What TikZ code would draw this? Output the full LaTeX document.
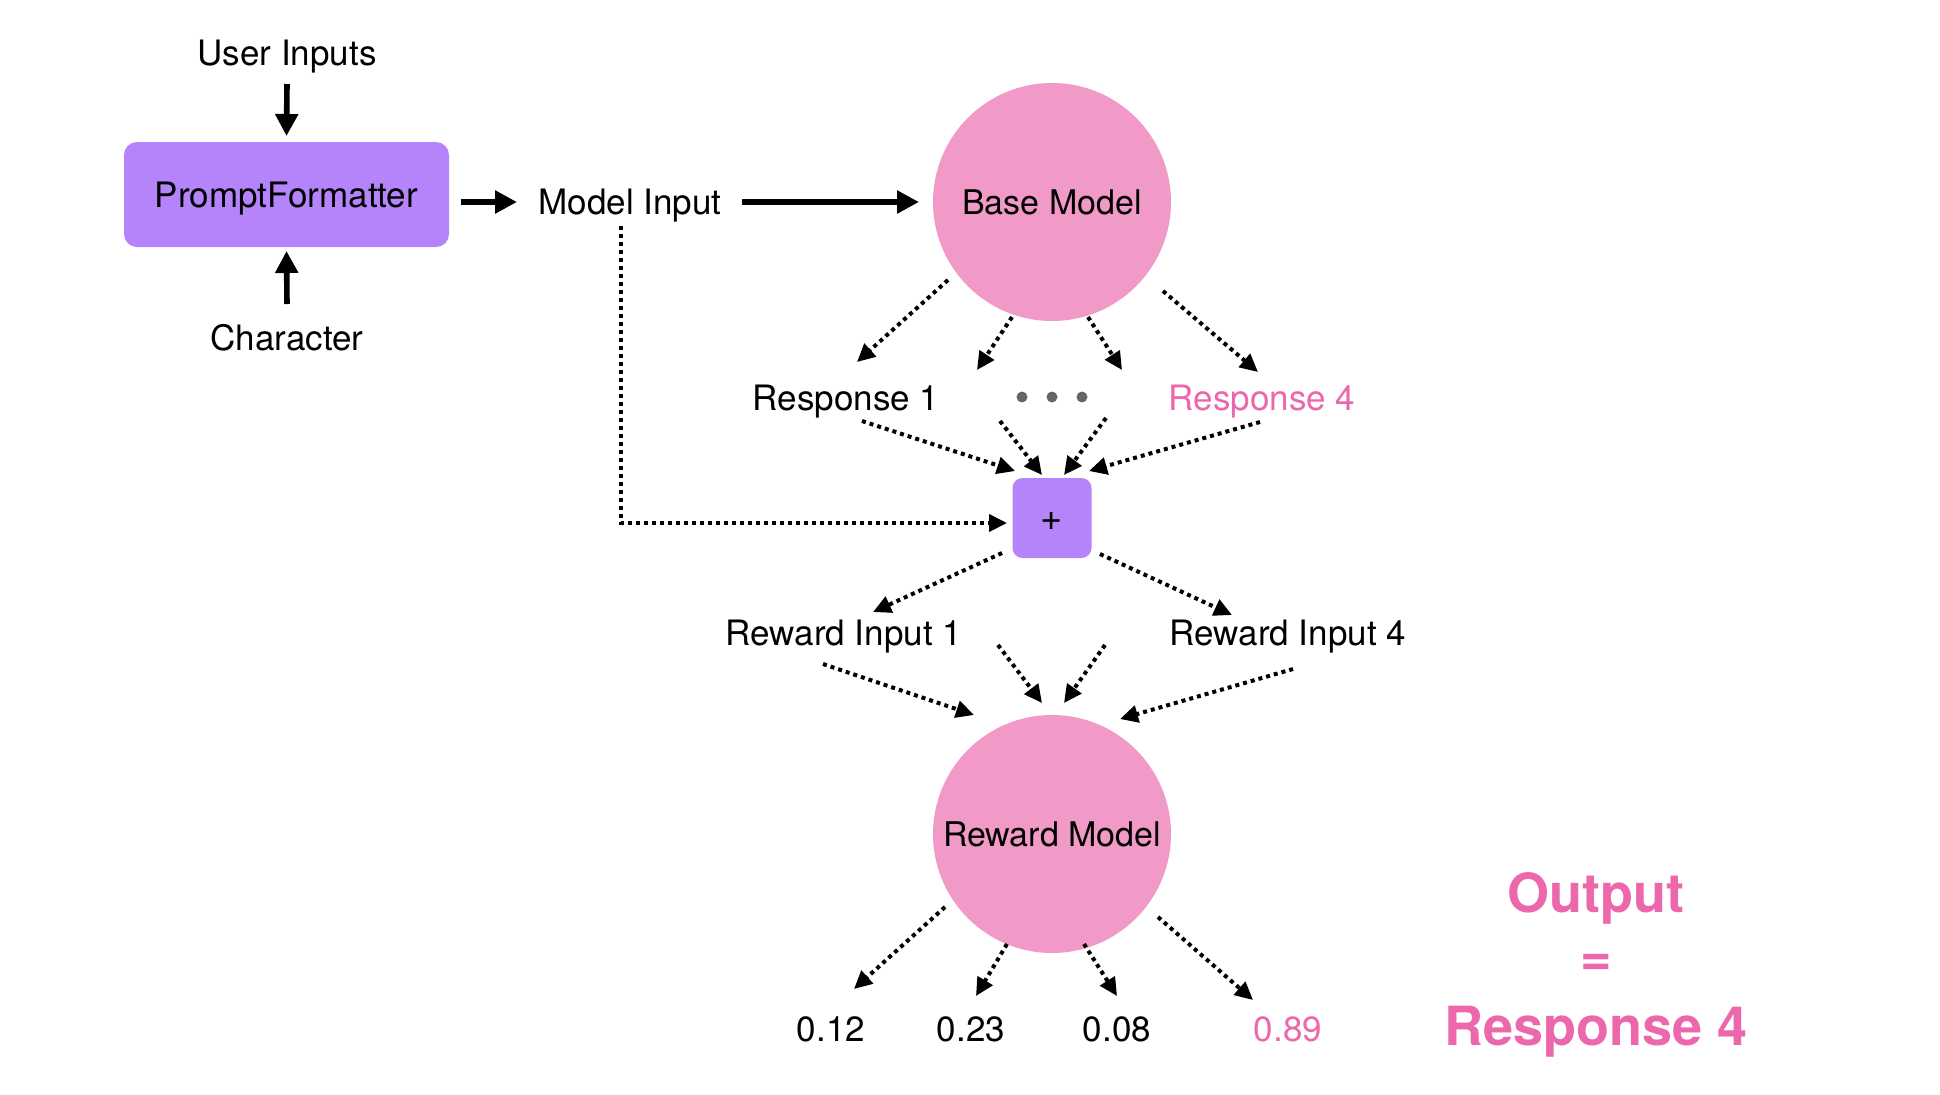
\documentclass[tikz,border=0pt]{standalone}
\usepackage{fontspec}
\setmainfont{TeX Gyre Heros}
\usetikzlibrary{arrows.meta}
\definecolor{boxpurple}{HTML}{B584FA}
\definecolor{circpink}{HTML}{F19AC7}
\definecolor{txtpink}{HTML}{EC67AC}
\definecolor{dotgray}{HTML}{666666}
\begin{document}
\begin{tikzpicture}[x=0.5pt,y=-0.5pt,
  lbl/.style={inner sep=0pt, text height=12.5pt, text depth=0pt, font=\fontsize{17.5}{20}\selectfont},
  bigpink/.style={inner sep=0pt, text height=19.5pt, text depth=0pt, text=txtpink, font=\fontsize{27}{30}\selectfont\bfseries},
  pbox/.style={fill=boxpurple, inner sep=0pt, text height=12.5pt, text depth=0pt, font=\fontsize{17.5}{20}\selectfont},
  pcirc/.style={circle, fill=circpink, minimum size=119pt, inner sep=0pt, font=\fontsize{17}{20}\selectfont},
  solidarrow/.style={line width=2.8pt, -{Triangle[length=11pt,width=11pt]}},
  dotarrow/.style={line width=2pt, dash pattern=on 2pt off 2pt, -{Triangle[length=9pt,width=8.5pt]}},
]
\useasboundingbox[fill=white] (0,0) rectangle (1940,1094);

% nodes
\node[lbl] (ui) at (287,53) {User Inputs};
\node[pbox, rounded corners=6.5pt, minimum width=162.5pt, minimum height=52.5pt] (pf) at (286.5,194.5) {PromptFormatter};
\node[lbl] (ch) at (287,338) {Character};
\node[lbl] (mi) at (630,202) {Model Input};
\node[pcirc] (base) at (1052,202) {Base Model};

\node[lbl] (r1) at (846,398) {Response 1};
\coordinate (dots) at (1052,397);
\fill[dotgray] (1022,397) circle (5.5) (1052,397) circle (5.5) (1082,397) circle (5.5);
\node[lbl, text=txtpink] (r4) at (1262,398) {Response 4};

\node[pbox, rounded corners=5pt, minimum width=39.5pt, minimum height=40pt, font=\fontsize{19}{20}\selectfont] (plus) at (1052,518) {+};

\node[lbl] (ri1) at (844,633) {Reward Input 1};
\coordinate (rimid) at (1052,633);
\node[lbl] (ri4) at (1288,633) {Reward Input 4};

\node[pcirc] (rm) at (1052,834) {Reward Model};

\node[lbl] (v1) at (831,1029) {0.12};
\node[lbl] (v2) at (971,1029) {0.23};
\node[lbl] (v3) at (1117,1029) {0.08};
\node[lbl, text=txtpink] (v4) at (1288,1029) {0.89};

\node[bigpink] (out) at (1596,893) {Output};
\node[bigpink, text height=0pt] (eq) at (1596,960) {\raisebox{-7.5pt}{=}};
\node[bigpink] (outr) at (1596,1026) {Response 4};

% solid arrows
\draw[solidarrow] ([shift={(0,31)}]ui.center) -- ([shift={(0,-58.5)}]pf.center);
\draw[solidarrow] ([shift={(0,-34)}]ch.center) -- ([shift={(0,56.5)}]pf.center);
\draw[solidarrow] ([shift={(174.5,7.5)}]pf.center) -- ([shift={(-113,0)}]mi.center);
\draw[solidarrow] ([shift={(112,0)}]mi.center) -- ([shift={(-133,0)}]base.center);

% base model -> responses
\draw[dotarrow] ([shift={(-104,78)}]base.center) -- ([shift={(11,-36)}]r1.center);
\draw[dotarrow] ([shift={(-40,115)}]base.center) -- ([shift={(-75,-27)}]dots);
\draw[dotarrow] ([shift={(36,115)}]base.center) -- ([shift={(70,-27)}]dots);
\draw[dotarrow] ([shift={(111,89)}]base.center) -- ([shift={(-4,-26)}]r4.center);

% responses -> plus
\draw[dotarrow] ([shift={(16,23)}]r1.center) -- ([shift={(-37,-47)}]plus.center);
\draw[dotarrow] ([shift={(-52,24)}]dots) -- ([shift={(-10,-43)}]plus.center);
\draw[dotarrow] ([shift={(54,21)}]dots) -- ([shift={(12,-43)}]plus.center);
\draw[dotarrow] ([shift={(-2,24)}]r4.center) -- ([shift={(37,-47)}]plus.center);

% model input -> plus
\draw[dotarrow] ([shift={(-9,24)}]mi.center) |- ([shift={(-45,5)}]plus.center);

% plus -> reward inputs
\draw[dotarrow] ([shift={(-50,35)}]plus.center) -- ([shift={(29,-21)}]ri1.center);
\draw[dotarrow] ([shift={(48,36)}]plus.center) -- ([shift={(-56,-18)}]ri4.center);

% reward inputs -> reward model
\draw[dotarrow] ([shift={(-21,31)}]ri1.center) -- ([shift={(-78,-119)}]rm.center);
\draw[dotarrow] ([shift={(-54,12)}]rimid) -- ([shift={(-10,-131)}]rm.center);
\draw[dotarrow] ([shift={(53,12)}]rimid) -- ([shift={(12,-131)}]rm.center);
\draw[dotarrow] ([shift={(5,36)}]ri4.center) -- ([shift={(68,-115)}]rm.center);

% reward model -> values
\draw[dotarrow] ([shift={(-107,73)}]rm.center) -- ([shift={(23,-40)}]v1.center);
\draw[dotarrow] ([shift={(-45,110)}]rm.center) -- ([shift={(5,-33)}]v2.center);
\draw[dotarrow] ([shift={(32,110)}]rm.center) -- ([shift={(0,-33)}]v3.center);
\draw[dotarrow] ([shift={(106,83)}]rm.center) -- ([shift={(-35,-29)}]v4.center);
\end{tikzpicture}
\end{document}
